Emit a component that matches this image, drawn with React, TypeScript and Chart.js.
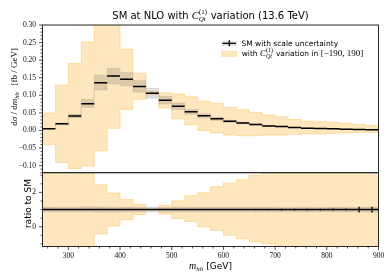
import React, { useEffect, useRef } from 'react';
import { Chart, registerables } from 'chart.js';

// ---------------- data ----------------
const binEdges = [250, 275, 300, 325, 350, 375, 400, 425, 450, 475, 500, 525, 550, 575, 600, 625, 650, 675, 700, 725, 750, 775, 800, 825, 850, 875, 900];
const smCentral = [0.0046, 0.019, 0.041, 0.076, 0.136, 0.155, 0.146, 0.125, 0.106, 0.086, 0.069, 0.053, 0.042, 0.033, 0.026, 0.0215, 0.017, 0.013, 0.011, 0.0086, 0.0066, 0.0057, 0.0046, 0.0037, 0.003, 0.002];
const scaleUp = [0.0052, 0.0216, 0.0466, 0.089, 0.157, 0.177, 0.165, 0.142, 0.12, 0.097, 0.078, 0.06, 0.0475, 0.0373, 0.0294, 0.0243, 0.0192, 0.0147, 0.0124, 0.0097, 0.0075, 0.0064, 0.0052, 0.0042, 0.0034, 0.0023];
const scaleDown = [0.004, 0.0165, 0.0357, 0.066, 0.115, 0.132, 0.127, 0.109, 0.092, 0.075, 0.06, 0.046, 0.0366, 0.0287, 0.0226, 0.0187, 0.0148, 0.0113, 0.0096, 0.0075, 0.0057, 0.005, 0.004, 0.0032, 0.0026, 0.0017];
const cqtMax = [0.05, 0.129, 0.191, 0.252, 0.332, 0.304, 0.231, 0.163, 0.11, 0.107, 0.104, 0.096, 0.083, 0.077, 0.066, 0.059, 0.051, 0.044, 0.039, 0.031, 0.027, 0.025, 0.023, 0.02, 0.017, 0.014];
const cqtMin = [-0.04, -0.091, -0.109, -0.101, -0.058, 0.006, 0.06, 0.089, 0.103, 0.064, 0.033, 0.016, 0.0, -0.007, -0.013, -0.015, -0.015, -0.013, -0.013, -0.011, -0.01, -0.01, -0.008, -0.007, -0.006, -0.005];
const statErrRel = [0.01, 0.01, 0.01, 0.01, 0.01, 0.01, 0.01, 0.01, 0.01, 0.01, 0.01, 0.01, 0.015, 0.015, 0.02, 0.02, 0.04, 0.04, 0.05, 0.05, 0.05, 0.05, 0.06, 0.06, 0.17, 0.17];
const mainYTicks = [-0.1, -0.05, 0, 0.05, 0.1, 0.15, 0.2, 0.25, 0.3];
const ratioYTicks = [0, 2];
const xTicks = [300, 400, 500, 600, 700, 800, 900];
const titleText = ['SM at NLO with ', 'C', '(1)', 'Qt', ' variation (13.6 TeV)'];
const legendSM = ['SM', 'with scale uncertainty'];
const legendCqt = ['with ', 'C', '(1)', 'Qt', ' variation in ', '[\u2212190, 190]'];

// ---------------- helpers ----------------
const ORANGE_FILL = 'rgb(254,231,190)';
const ORANGE_EDGE = 'rgba(255,175,50,0.35)';
const GREY_FILL = 'rgba(90,90,90,0.2)';
const SANS = '"DejaVu Sans"';
const SERIF = '"Liberation Serif"';

const stepPts = (vals: number[]) => {
  const pts = vals.map((v, i) => ({ x: binEdges[i], y: v }));
  pts.push({ x: binEdges[vals.length], y: vals[vals.length - 1] });
  return pts;
};
const segPts = (vals: number[]) => {
  const pts: { x: number; y: number | null }[] = [];
  vals.forEach((v, i) => {
    pts.push({ x: binEdges[i], y: v }, { x: binEdges[i + 1], y: v }, { x: binEdges[i + 1], y: null });
  });
  return pts;
};
const errPts = (vals: number[], rel: number[]) => {
  const pts: { x: number; y: number | null }[] = [];
  vals.forEach((v, i) => {
    const c = (binEdges[i] + binEdges[i + 1]) / 2;
    pts.push({ x: c, y: v * (1 - rel[i]) }, { x: c, y: v * (1 + rel[i]) }, { x: c, y: null });
  });
  return pts;
};

type Part = { t?: string; f: string; dy?: number; sup?: string; sub?: string; f2?: string; supDy?: number; subDy?: number };
const partW = (ctx: CanvasRenderingContext2D, p: Part) => {
  if (p.sup !== undefined || p.sub !== undefined) {
    ctx.font = p.f;
    const a = ctx.measureText(p.sup || '').width;
    ctx.font = p.f2 || p.f;
    const b = ctx.measureText(p.sub || '').width;
    return Math.max(a, b) + 0.5;
  }
  ctx.font = p.f;
  return ctx.measureText(p.t || '').width;
};
const drawRich = (ctx: CanvasRenderingContext2D, parts: Part[], x: number, y: number, align: 'left' | 'center') => {
  ctx.textAlign = 'left';
  ctx.textBaseline = 'alphabetic';
  const ws = parts.map((p) => partW(ctx, p));
  const total = ws.reduce((a, b) => a + b, 0);
  let cx = align === 'center' ? x - total / 2 : x;
  parts.forEach((p, i) => {
    if (p.sup !== undefined || p.sub !== undefined) {
      ctx.font = p.f;
      if (p.sup) ctx.fillText(p.sup, cx, y + (p.supDy || 0));
      ctx.font = p.f2 || p.f;
      if (p.sub) ctx.fillText(p.sub, cx, y + (p.subDy || 0));
    } else {
      ctx.font = p.f;
      ctx.fillText(p.t || '', cx, y + (p.dy || 0));
    }
    cx += ws[i];
  });
};

// clip each dataset to its own panel (registered before Filler so fills are clipped too)
const panelClip = {
  id: 'panelClip',
  beforeDatasetDraw(chart: any, args: any) {
    const ys = args.meta.yScale;
    const a = chart.chartArea;
    const ctx = chart.ctx;
    ctx.save();
    ctx.beginPath();
    ctx.rect(a.left, ys.top, a.right - a.left, ys.bottom - ys.top);
    ctx.clip();
  },
  afterDatasetDraw(chart: any) {
    chart.ctx.restore();
  },
};
Chart.register(panelClip as any);
Chart.register(...registerables);

const decor = {
  id: 'decor',
  afterDraw(chart: any) {
    const ctx: CanvasRenderingContext2D = chart.ctx;
    const a = chart.chartArea;
    const y = chart.scales.y;
    const yr = chart.scales.yr;
    const x = chart.scales.x;
    ctx.save();
    // frames
    ctx.strokeStyle = '#262626';
    ctx.lineWidth = 1;
    ctx.strokeRect(a.left, y.top, a.right - a.left, y.bottom - y.top);
    ctx.strokeRect(a.left, yr.top, a.right - a.left, yr.bottom - yr.top);
    // ticks
    ctx.lineWidth = 0.8;
    const yTick = (sc: any, v: number, len: number) => {
      const p = sc.getPixelForValue(v);
      ctx.beginPath();
      ctx.moveTo(a.left - len, p);
      ctx.lineTo(a.left, p);
      ctx.stroke();
    };
    const xTick = (v: number, len: number) => {
      const p = x.getPixelForValue(v);
      ctx.beginPath();
      ctx.moveTo(p, yr.bottom);
      ctx.lineTo(p, yr.bottom + len);
      ctx.stroke();
    };
    mainYTicks.forEach((v) => yTick(y, v, 3.5));
    for (let k = -12; k <= 30; k++) if (k % 5 !== 0) yTick(y, k / 100, 2);
    ratioYTicks.forEach((v) => yTick(yr, v, 3.5));
    for (let k = -2; k <= 6; k++) if (k % 4 !== 0) yTick(yr, k * 0.5, 2);
    xTicks.forEach((v) => xTick(v, 3.5));
    for (let v = 260; v <= 900; v += 20) if (v % 100 !== 0) xTick(v, 2);

    ctx.fillStyle = '#000';
    const cx = (a.left + a.right) / 2;
    // title
    drawRich(
      ctx,
      [
        { t: titleText[0], f: `10px ${SANS}` },
        { t: titleText[1], f: `italic 10.5px ${SERIF}` },
        { sup: titleText[2], sub: titleText[3], f: `7px ${SERIF}`, f2: `italic 7px ${SERIF}`, supDy: -5, subDy: 2.5 },
        { t: titleText[4], f: `10px ${SANS}` },
      ],
      cx,
      18.5,
      'center'
    );
    // legend
    ctx.fillStyle = GREY_FILL;
    ctx.fillRect(221.7, 40.8, 15, 5);
    ctx.strokeStyle = '#000';
    ctx.lineWidth = 1.3;
    ctx.beginPath();
    ctx.moveTo(222.5, 43.3);
    ctx.lineTo(236, 43.3);
    ctx.moveTo(229.3, 40.3);
    ctx.lineTo(229.3, 46.3);
    ctx.stroke();
    ctx.fillStyle = ORANGE_FILL;
    ctx.fillRect(221.7, 51.3, 15, 5);
    ctx.strokeStyle = ORANGE_EDGE;
    ctx.lineWidth = 0.8;
    ctx.strokeRect(221.7, 51.3, 15, 5);
    ctx.fillStyle = '#000';
    drawRich(ctx, [{ t: legendSM[0], f: `7.5px ${SANS}` }], 241.5, 46, 'left');
    drawRich(ctx, [{ t: legendSM[1], f: `7.5px ${SANS}` }], 255, 46, 'left');
    drawRich(
      ctx,
      [
        { t: legendCqt[0], f: `7.5px ${SANS}` },
        { t: legendCqt[1], f: `italic 9px ${SERIF}` },
        { sup: legendCqt[2], sub: legendCqt[3], f: `6px ${SERIF}`, f2: `italic 6px ${SERIF}`, supDy: -4.5, subDy: 2 },
        { t: legendCqt[4], f: `7.5px ${SANS}` },
        { t: legendCqt[5], f: `9px ${SERIF}` },
      ],
      241.7,
      56.2,
      'left'
    );
    // y titles
    ctx.save();
    ctx.translate(13.5, (y.top + y.bottom) / 2 - 12);
    ctx.rotate(-Math.PI / 2);
    drawRich(
      ctx,
      [
        { t: 'd', f: `9px ${SERIF}` },
        { t: '\u03c3', f: `italic 9px ${SERIF}` },
        { t: ' / d', f: `9px ${SERIF}` },
        { t: 'm', f: `italic 9px ${SERIF}` },
        { t: 'hh', f: `italic 6.5px ${SERIF}`, dy: 2 },
        { t: '   [fb / GeV]', f: `9px ${SERIF}` },
      ],
      0,
      3,
      'center'
    );
    ctx.restore();
    ctx.save();
    ctx.translate(27.5, (yr.top + yr.bottom) / 2 - 6);
    ctx.rotate(-Math.PI / 2);
    drawRich(ctx, [{ t: 'ratio to SM', f: `9px ${SANS}` }], 0, 3, 'center');
    ctx.restore();
    // x title
    drawRich(
      ctx,
      [
        { t: 'm', f: `italic 10px ${SERIF}` },
        { t: 'hh', f: `italic 7px ${SERIF}`, dy: 2 },
        { t: ' [GeV]', f: `9px ${SANS}` },
      ],
      cx,
      268.5,
      'center'
    );
    ctx.restore();
  },
};

export default function App() {
  const ref = useRef<HTMLCanvasElement | null>(null);
  useEffect(() => {
    if (!ref.current) return;
    const ratioOf = (arr: number[]) => arr.map((v, i) => v / smCentral[i]);
    const ones = smCentral.map((v) => v / v);
    const base = { pointRadius: 0, pointHoverRadius: 0, spanGaps: false } as any;
    const band = (lo: number[], hi: number[], fillColor: string, edge: string, yAxisID: string, order: number) => [
      { ...base, type: 'line', data: stepPts(lo), stepped: 'before', borderColor: edge, borderWidth: 1, fill: false, yAxisID, order },
      { ...base, type: 'line', data: stepPts(hi), stepped: 'before', borderColor: edge, borderWidth: 1, backgroundColor: fillColor, fill: '-1', yAxisID, order },
    ];
    const tickFont = { family: 'Liberation Serif', size: 7.5 };
    const chart = new Chart(ref.current, {
      type: 'line',
      data: {
        datasets: [
          { ...base, data: segPts(smCentral), borderColor: '#000', borderWidth: 1.5, fill: false, yAxisID: 'y', order: 0 },
          { ...base, data: errPts(smCentral, statErrRel), borderColor: '#000', borderWidth: 1.3, fill: false, yAxisID: 'y', order: 0 },
          ...band(scaleDown, scaleUp, GREY_FILL, 'rgba(90,90,90,0.12)', 'y', 2),
          ...band(cqtMin, cqtMax, ORANGE_FILL, ORANGE_EDGE, 'y', 3),
          { ...base, data: segPts(ones), borderColor: '#000', borderWidth: 1.5, fill: false, yAxisID: 'yr', order: 0 },
          { ...base, data: errPts(ones, statErrRel), borderColor: '#000', borderWidth: 1.3, fill: false, yAxisID: 'yr', order: 0 },
          ...band(ratioOf(scaleDown), ratioOf(scaleUp), GREY_FILL, 'rgba(90,90,90,0.12)', 'yr', 2),
          ...band(ratioOf(cqtMin), ratioOf(cqtMax), ORANGE_FILL, ORANGE_EDGE, 'yr', 3),
        ] as any,
      },
      options: {
        animation: false,
        responsive: true,
        maintainAspectRatio: false,
        events: [],
        layout: { padding: { top: 25, right: 11.5, bottom: 0, left: 0 } },
        plugins: { legend: { display: false }, tooltip: { enabled: false }, title: { display: false } },
        scales: {
          x: {
            type: 'linear',
            position: 'bottom',
            min: 250,
            max: 900,
            grid: { display: false, drawTicks: false, tickLength: 0 },
            border: { display: false },
            afterBuildTicks: (s: any) => {
              s.ticks = xTicks.map((v) => ({ value: v }));
            },
            afterFit: (s: any) => {
              s.height = 30.5;
            },
            ticks: { font: tickFont, color: '#111', padding: 5, maxRotation: 0, autoSkip: false, callback: (v: any) => String(v) },
          },
          yr: {
            type: 'linear',
            position: 'left',
            stack: 'panels',
            stackWeight: 1,
            min: -1.15,
            max: 3.15,
            grid: { display: false, drawTicks: false, tickLength: 0 },
            border: { display: false },
            afterBuildTicks: (s: any) => {
              s.ticks = ratioYTicks.map((v) => ({ value: v }));
            },
            afterFit: (s: any) => {
              s.width = 42.5;
            },
            ticks: { font: tickFont, color: '#111', padding: 6.5, autoSkip: false, callback: (v: any) => String(v) },
          },
          y: {
            type: 'linear',
            position: 'left',
            stack: 'panels',
            stackWeight: 2,
            min: -0.12,
            max: 0.3,
            grid: { display: false, drawTicks: false, tickLength: 0 },
            border: { display: false },
            afterBuildTicks: (s: any) => {
              s.ticks = mainYTicks.map((v) => ({ value: v }));
            },
            afterFit: (s: any) => {
              s.width = 42.5;
            },
            ticks: {
              font: tickFont,
              color: '#111',
              padding: 6.5,
              autoSkip: false,
              callback: (v: any) => Number(v).toFixed(2).replace('-', '\u2212'),
            },
          },
        } as any,
      },
      plugins: [decor as any],
    });
    return () => chart.destroy();
  }, []);
  return (
    <div style={{ position: 'fixed', left: 0, top: 0, width: 390, height: 277, background: '#fff' }}>
      <canvas ref={ref} />
    </div>
  );
}
